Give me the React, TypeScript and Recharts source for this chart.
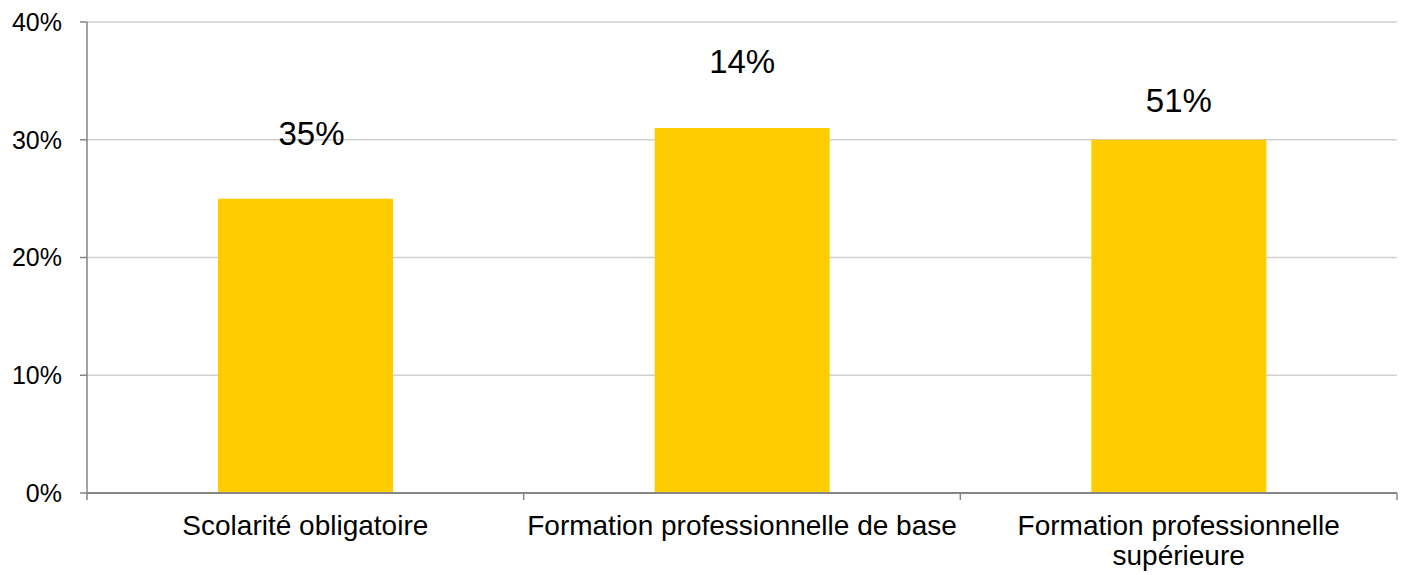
import { Bar, BarChart, CartesianGrid, LabelList, XAxis, YAxis } from 'recharts'

const categories = ['Scolarité obligatoire', 'Formation professionnelle de base', 'Formation professionnelle supérieure']
const values = [25, 31, 30]
const valueLabels = ['35%', '14%', '51%']
const yTicks = [0, 10, 20, 30, 40]

const W = 1405
const H = 575
const M = { top: 22, right: 8, left: 0, bottom: 0 }
const Y_W = 87
const BAND = (W - M.left - M.right - Y_W) / categories.length
const FONT = '"Liberation Sans", Arial, sans-serif'
const AXIS = '#868686'
const X_FS = 28
// how far each value label sits above its bar, and a small sideways nudge
const labelLift = [54, 55, 28]
const labelShift = [6, 0, 0]

if (typeof document !== 'undefined') document.body.style.margin = '0'

const data = categories.map((name, i) => ({ name, value: values[i] }))

let ctx: CanvasRenderingContext2D | null = null
function textWidth(s: string) {
  if (!ctx && typeof document !== 'undefined') ctx = document.createElement('canvas').getContext('2d')
  if (!ctx) return s.length * X_FS * 0.5
  ctx.font = `${X_FS}px ${FONT}`
  return ctx.measureText(s).width
}

function wrap(s: string, max: number) {
  const lines: string[] = []
  let cur = ''
  for (const w of s.split(' ')) {
    const next = cur ? cur + ' ' + w : w
    if (cur && textWidth(next) > max) {
      lines.push(cur)
      cur = w
    } else cur = next
  }
  if (cur) lines.push(cur)
  return lines
}

function CatTick(props: any) {
  const { x, y, payload, index } = props
  const last = index === categories.length - 1
  const lines = wrap(String(payload.value), BAND - 4)
  return (
    <g>
      <line x1={x - BAND / 2} x2={x - BAND / 2} y1={y} y2={y + 7} stroke={AXIS} strokeWidth={1.5} />
      {last && <line x1={x + BAND / 2} x2={x + BAND / 2} y1={y} y2={y + 7} stroke={AXIS} strokeWidth={1.5} />}
      <text textAnchor="middle" fontSize={X_FS} fontFamily={FONT} fill="#000">
        {lines.map((l, i) => (
          <tspan key={i} x={x} y={y + 42 + i * 30}>
            {l}
          </tspan>
        ))}
      </text>
    </g>
  )
}

function renderLabel(props: any) {
  const { x, y, width, index } = props
  return (
    <text
      x={x + width / 2 + labelShift[index]}
      y={y - labelLift[index]}
      textAnchor="middle"
      fontSize={33}
      fontFamily={FONT}
      fill="#000"
    >
      {valueLabels[index]}
    </text>
  )
}

export default function App() {
  return (
    <div style={{ width: W, height: H, background: '#fff' }}>
      <BarChart width={W} height={H} data={data} margin={M} barCategoryGap="30%">
        <CartesianGrid vertical={false} stroke="#d0d0d0" strokeWidth={1.5} />
        <XAxis
          dataKey="name"
          interval={0}
          height={H - 493}
          tickLine={false}
          tickSize={0}
          tickMargin={0}
          axisLine={{ stroke: AXIS, strokeWidth: 2 }}
          tick={<CatTick />}
        />
        <YAxis
          width={Y_W}
          domain={[0, 40]}
          ticks={yTicks}
          tickFormatter={(v: number) => `${v}%`}
          tickSize={7}
          tickMargin={18}
          axisLine={{ stroke: AXIS, strokeWidth: 1.5 }}
          tickLine={{ stroke: AXIS, strokeWidth: 1.5 }}
          tick={{ fill: '#000', fontSize: 25, fontFamily: FONT }}
        />
        <Bar dataKey="value" fill="#FFCC00" isAnimationActive={false}>
          <LabelList dataKey="value" content={renderLabel} />
        </Bar>
      </BarChart>
    </div>
  )
}
